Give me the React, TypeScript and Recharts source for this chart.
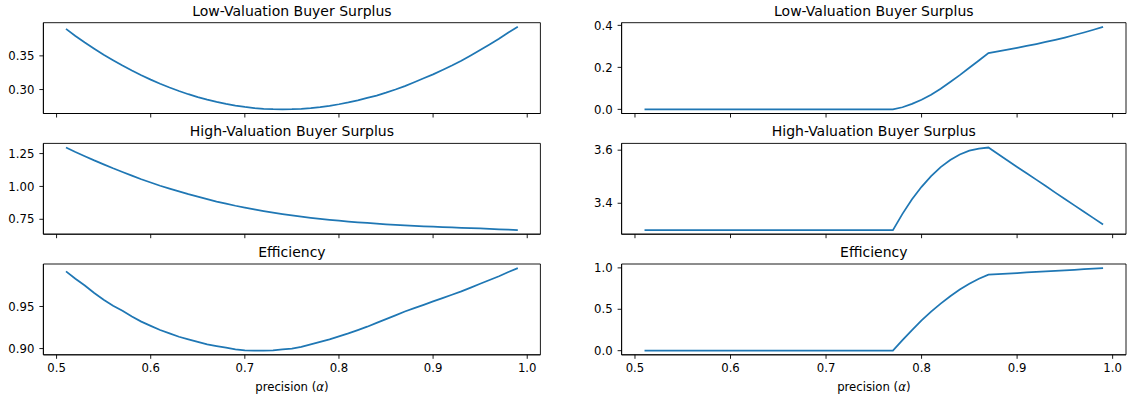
import React from 'react';
import { LineChart, Line, XAxis, YAxis, ReferenceArea } from 'recharts';

// shared x grid: precision alpha
const precision = [
  0.51, 0.52, 0.53, 0.54, 0.55, 0.56, 0.57, 0.58, 0.59, 0.6,
  0.61, 0.62, 0.63, 0.64, 0.65, 0.66, 0.67, 0.68, 0.69, 0.7,
  0.71, 0.72, 0.73, 0.74, 0.75, 0.76, 0.77, 0.78, 0.79, 0.8,
  0.81, 0.82, 0.83, 0.84, 0.85, 0.86, 0.87, 0.88, 0.89, 0.9,
  0.91, 0.92, 0.93, 0.94, 0.95, 0.96, 0.97, 0.98, 0.99,
];

// left column
const lowSurplusLeft = [
  0.39, 0.3795, 0.3698, 0.3606, 0.3518, 0.3435, 0.3356, 0.3282, 0.3212, 0.3147,
  0.3086, 0.303, 0.2978, 0.2931, 0.2888, 0.285, 0.2816, 0.2787, 0.2762, 0.2742,
  0.2726, 0.2715, 0.2708, 0.2706, 0.2708, 0.2714, 0.2725, 0.274, 0.2759, 0.2782,
  0.2809, 0.284, 0.2876, 0.2911, 0.2954, 0.3001, 0.3052, 0.3108, 0.3167, 0.3226,
  0.329, 0.3357, 0.3428, 0.3506, 0.3588, 0.3669, 0.3753, 0.3846, 0.3931,
];
const highSurplusLeft = [
  1.296, 1.262, 1.23, 1.198, 1.168, 1.138, 1.11, 1.082, 1.055, 1.03,
  1.005, 0.983, 0.962, 0.941, 0.922, 0.903, 0.885, 0.869, 0.853, 0.839,
  0.825, 0.812, 0.8, 0.789, 0.779, 0.77, 0.761, 0.753, 0.746, 0.739,
  0.733, 0.727, 0.722, 0.717, 0.712, 0.708, 0.704, 0.7, 0.697, 0.694,
  0.691, 0.688, 0.685, 0.682, 0.68, 0.677, 0.674, 0.671, 0.668,
];
const efficiencyLeft = [
  0.9917, 0.983, 0.975, 0.966, 0.958, 0.951, 0.945, 0.938, 0.932, 0.927,
  0.922, 0.918, 0.914, 0.911, 0.908, 0.905, 0.903, 0.901, 0.899, 0.898,
  0.8975, 0.8975, 0.898, 0.899, 0.9, 0.902, 0.905, 0.908, 0.911, 0.9145,
  0.918, 0.922, 0.926, 0.9305, 0.935, 0.9395, 0.944, 0.948, 0.952, 0.956,
  0.96, 0.964, 0.968, 0.9725, 0.977, 0.9815, 0.986, 0.991, 0.9956,
];

// right column
const lowSurplusRight = [
  0, 0, 0, 0, 0, 0, 0, 0, 0, 0,
  0, 0, 0, 0, 0, 0, 0, 0, 0, 0,
  0, 0, 0, 0, 0, 0, 0, 0.01, 0.026, 0.046,
  0.07, 0.098, 0.13, 0.163, 0.198, 0.233, 0.268, 0.276, 0.284, 0.293,
  0.302, 0.311, 0.321, 0.331, 0.342, 0.354, 0.366, 0.379, 0.393,
];
const highSurplusRight = [
  3.299, 3.299, 3.299, 3.299, 3.299, 3.299, 3.299, 3.299, 3.299, 3.299,
  3.299, 3.299, 3.299, 3.299, 3.299, 3.299, 3.299, 3.299, 3.299, 3.299,
  3.299, 3.299, 3.299, 3.299, 3.299, 3.299, 3.299, 3.36, 3.415, 3.462,
  3.502, 3.536, 3.563, 3.584, 3.598, 3.606, 3.61, 3.586, 3.561, 3.537,
  3.513, 3.489, 3.465, 3.44, 3.416, 3.392, 3.368, 3.344, 3.32,
];
const efficiencyRight = [
  0, 0, 0, 0, 0, 0, 0, 0, 0, 0,
  0, 0, 0, 0, 0, 0, 0, 0, 0, 0,
  0, 0, 0, 0, 0, 0, 0, 0.127, 0.249, 0.365,
  0.472, 0.569, 0.658, 0.738, 0.808, 0.868, 0.919, 0.925, 0.932, 0.938,
  0.945, 0.951, 0.958, 0.964, 0.971, 0.977, 0.984, 0.99, 0.997,
];

const xTicks = [0.5, 0.6, 0.7, 0.8, 0.9, 1.0];
const titles = ['Low-Valuation Buyer Surplus', 'High-Valuation Buyer Surplus', 'Efficiency'];

const FONT = "'DejaVu Sans', sans-serif";
const INK = '#000';
const BLUE = '#1f77b4';
const TICK_FS = 11.7;

// axes boxes in page pixels
const COLS = [{ x: 43.4, w: 497 }, { x: 621.6, w: 504.4 }];
const ROWS = [22.7, 143.4, 264];
const PLOT_H = 90.8;
const YAXIS_W = 50;

function padded(values: number[]): [number, number] {
  const lo = Math.min(...values);
  const hi = Math.max(...values);
  const m = (hi - lo) * 0.05;
  return [lo - m, hi + m];
}
const X_DOMAIN = padded(precision);

const tickStyle = { fontSize: TICK_FS, fill: INK, fontFamily: FONT };
const spine = { stroke: INK, strokeWidth: 0.9 };

interface SubplotProps {
  title: string;
  values: number[];
  yTicks: number[];
  digits: number;
  col: number;
  row: number;
}

function Subplot({ title, values, yTicks, digits, col, row }: SubplotProps) {
  const { x, w } = COLS[col];
  const y = ROWS[row];
  const last = row === 2;
  const axisH = last ? 44 : 8;
  const left = Math.floor(x - YAXIS_W);
  const top = Math.floor(y - 26);
  const mLeft = x - YAXIS_W - left;
  const mTop = y - top;
  const width = Math.ceil(mLeft + YAXIS_W + w + 4);
  const height = Math.ceil(mTop + PLOT_H + axisH);
  const mRight = width - mLeft - YAXIS_W - w;
  const mBottom = height - mTop - PLOT_H - axisH;
  const cx = mLeft + YAXIS_W + w / 2;
  const yDomain = padded(values);
  const data = precision.map((p, i) => ({ p, v: values[i] }));

  const titleLabel = () => (
    <text x={cx} y={mTop - 7} textAnchor="middle" fontSize={14} fill={INK} fontFamily={FONT}>
      {title}
    </text>
  );
  const xLabel = () => (
    <text x={cx} y={390.5 - top} textAnchor="middle" fontSize={TICK_FS} fill={INK} fontFamily={FONT}>
      precision (<tspan fontStyle="italic">α</tspan>)
    </text>
  );

  return (
    <div style={{ position: 'absolute', left, top }}>
      <LineChart
        width={width}
        height={height}
        data={data}
        margin={{ top: mTop, right: mRight, bottom: mBottom, left: mLeft }}
        style={{ fontFamily: FONT }}
      >
        <XAxis
          xAxisId="b"
          dataKey="p"
          type="number"
          domain={X_DOMAIN}
          ticks={xTicks}
          allowDataOverflow
          height={axisH}
          tickSize={4}
          tickMargin={4.5}
          tick={last ? tickStyle : () => <g />}
          tickFormatter={(v: number) => v.toFixed(1)}
          tickLine={spine}
          axisLine={spine}
          label={last ? xLabel : undefined}
        />
        <YAxis
          yAxisId="l"
          type="number"
          domain={yDomain}
          ticks={yTicks}
          allowDataOverflow
          width={YAXIS_W}
          tickSize={4}
          tickMargin={5}
          tick={tickStyle}
          tickFormatter={(v: number) => v.toFixed(digits)}
          tickLine={spine}
          axisLine={spine}
          label={titleLabel}
        />
        <Line
          xAxisId="b"
          yAxisId="l"
          type="linear"
          dataKey="v"
          stroke={BLUE}
          strokeWidth={1.75}
          dot={false}
          activeDot={false}
          isAnimationActive={false}
        />
        <ReferenceArea
          xAxisId="b"
          yAxisId="l"
          x1={X_DOMAIN[0]}
          x2={X_DOMAIN[1]}
          y1={yDomain[0]}
          y2={yDomain[1]}
          fill="none"
          stroke={INK}
          strokeWidth={0.9}
          ifOverflow="visible"
        />
      </LineChart>
    </div>
  );
}

export default function App() {
  return (
    <div
      style={{
        position: 'absolute',
        left: 0,
        top: 0,
        width: 1128,
        height: 401,
        background: '#fff',
        overflow: 'hidden',
      }}
    >
      <Subplot title={titles[0]} values={lowSurplusLeft} yTicks={[0.3, 0.35]} digits={2} col={0} row={0} />
      <Subplot title={titles[1]} values={highSurplusLeft} yTicks={[0.75, 1.0, 1.25]} digits={2} col={0} row={1} />
      <Subplot title={titles[2]} values={efficiencyLeft} yTicks={[0.9, 0.95]} digits={2} col={0} row={2} />
      <Subplot title={titles[0]} values={lowSurplusRight} yTicks={[0.0, 0.2, 0.4]} digits={1} col={1} row={0} />
      <Subplot title={titles[1]} values={highSurplusRight} yTicks={[3.4, 3.6]} digits={1} col={1} row={1} />
      <Subplot title={titles[2]} values={efficiencyRight} yTicks={[0.0, 0.5, 1.0]} digits={1} col={1} row={2} />
    </div>
  );
}
